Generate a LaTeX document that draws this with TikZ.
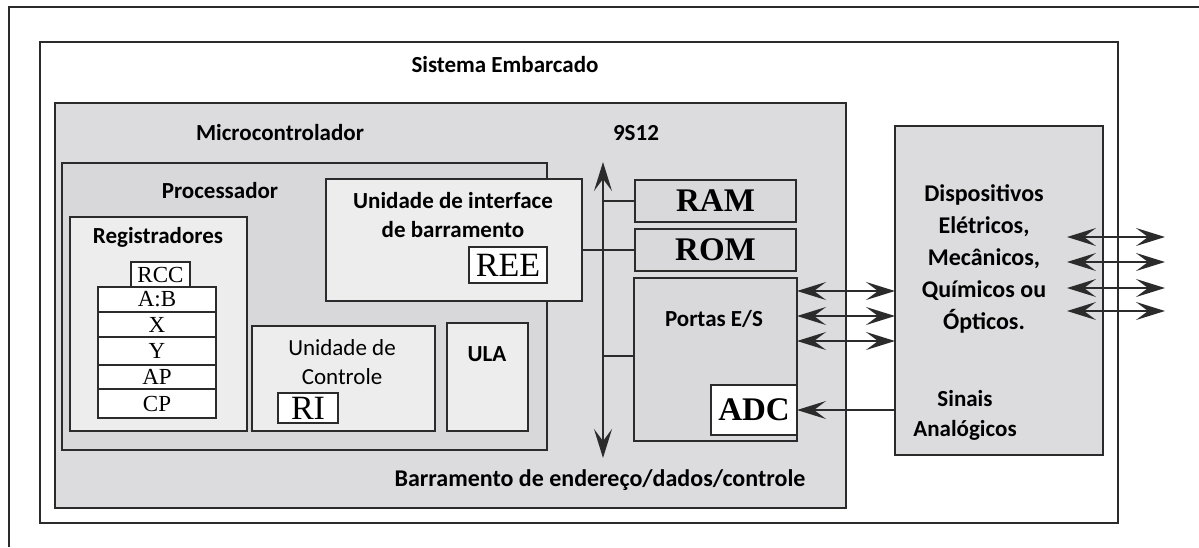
\documentclass[tikz,border=0pt]{standalone}
\usepackage{fontspec}
\setmainfont{Carlito}
\newfontfamily\tms{Liberation Serif}
\usetikzlibrary{arrows.meta,calc}
\definecolor{linec}{HTML}{2B2B2B}
\definecolor{microc}{HTML}{DCDCDE}
\definecolor{procc}{HTML}{D8D8DA}
\definecolor{lightc}{HTML}{EDEDED}
\definecolor{memc}{HTML}{D9D9DB}
\definecolor{devc}{HTML}{DCDCDE}
\newcommand\bx[7]{\node[frame,#6,minimum width={#4pt-#2pt},minimum height={#5pt-#3pt}] (#1) at (#2,#3) {#7};}
\begin{document}
\begin{tikzpicture}[x=1pt,y=-1pt,
  frame/.style={draw=linec,line width=2.4pt,inner sep=0pt,outer sep=0pt,anchor=north west},
  lbl/.style={font=\fontsize{23}{29}\selectfont\bfseries,inner sep=0pt,anchor=base,align=center},
  lblr/.style={font=\fontsize{23}{29}\selectfont,inner sep=0pt,anchor=base,align=center},
  regtxt/.style={font=\tms\fontsize{23}{25}\selectfont},
  bigtxt/.style={font=\tms\fontsize{34}{36}\selectfont},
  memtxt/.style={font=\tms\bfseries\fontsize{33}{36}\selectfont},
  conn/.style={draw=linec,line width=1.9pt},
  >={Stealth[length=29pt,width=18pt,inset=12pt]}
]
\useasboundingbox (0,0) rectangle (1199,547);
% outer frame (partially visible)
\draw[draw=linec,line width=2pt] (9,547) -- (9,7) -- (1199,7);
% boxes
\bx{sist}{40}{42}{1118}{523}{fill=white}{}
\bx{micro}{55}{103}{846}{508}{fill=microc}{}
\bx{proc}{62}{163}{547}{450}{fill=procc}{}
\bx{reg}{70}{217}{247}{431}{fill=lightc}{}
\bx{rcc}{131}{262}{190}{287}{fill=white,regtxt}{RCC}
\bx{ab}{98}{287}{216}{312}{fill=white,regtxt}{A:B}
\bx{rx}{98}{312}{216}{337}{fill=white,regtxt}{X}
\bx{ry}{98}{337}{216}{365}{fill=white,regtxt}{Y}
\bx{ap}{98}{365}{216}{389}{fill=white,regtxt}{AP}
\bx{cp}{98}{389}{216}{418}{fill=white,regtxt}{CP}
\bx{uc}{252}{326}{435}{431}{fill=lightc}{}
\bx{ri}{278}{393}{338}{423}{fill=white,bigtxt}{RI}
\bx{ula}{447}{323}{528}{431}{fill=lightc}{}
\bx{uib}{326}{179}{582}{301}{fill=lightc}{}
\bx{ree}{469}{247}{547}{283}{fill=white,bigtxt}{REE}
\bx{ram}{635}{180}{796}{222}{fill=memc,memtxt}{RAM}
\bx{rom}{635}{229}{796}{271}{fill=memc,memtxt}{ROM}
\bx{portas}{634}{278}{797}{441}{fill=memc}{}
\bx{adc}{711}{385}{797}{435}{fill=white,memtxt}{ADC}
\bx{disp}{895}{126}{1103}{455}{fill=devc}{}
% labels (anchor = baseline of last line)
\node[lbl] (tsist) at (505,72) {Sistema Embarcado};
\node[lbl] (tmicro) at (280,140) {Microcontrolador};
\node[lbl] (t9s12) at (636,140) {9S12};
\node[lbl] (tproc) at (220,198) {Processador};
\node[lbl] (treg) at (158,243) {Registradores};
\node[lbl] (tuib) at (453,237) {Unidade de interface\\de barramento};
\node[lblr] (tuc) at (342,384) {Unidade de\\Controle};
\node[lbl] (tula) at (487,361) {ULA};
\node[lbl] (tportas) at (714,326) {Portas E/S};
\node[lbl,font=\fontsize{24}{32}\selectfont\bfseries] (tdisp) at (984,329) {Dispositivos\\Elétricos,\\Mecânicos,\\Químicos ou\\Ópticos.};
\node[lbl,font=\fontsize{23}{30}\selectfont\bfseries] (tsin) at (965,436) {Sinais\\Analógicos};
\node[lbl,font=\fontsize{24}{29}\selectfont\bfseries] (tbus) at (600,486) {Barramento de endereço/dados/controle};
% bus
\coordinate (busT) at (603,162);
\coordinate (busB) at (603,458);
\draw[conn,<->] (busT) -- (busB);
\draw[conn] (ram.west) -- (ram.west -| busT);
\draw[conn] (rom.west -| uib.east) -- (rom.west);
\draw[conn] ([yshift=-78pt]portas.north west) -- ([yshift=-78pt]portas.north west -| busT);
% I/O arrows
\draw[conn,<->] ([yshift=-13pt]portas.north east) -- ([yshift=-13pt]portas.north east -| disp.west);
\draw[conn,<->] ([yshift=-38pt]portas.north east) -- ([yshift=-38pt]portas.north east -| disp.west);
\draw[conn,<->] ([yshift=-63pt]portas.north east) -- ([yshift=-63pt]portas.north east -| disp.west);
\draw[conn,->] (adc.east -| disp.west) -- (adc.east);
% external arrows
\foreach \i/\yy in {1/237,2/262,3/288,4/311}{
  \coordinate (in\i) at (1067,\yy);
  \coordinate (out\i) at (1165,\yy);
  \draw[conn,<->] (in\i) -- (out\i);
}
\end{tikzpicture}
\end{document}
